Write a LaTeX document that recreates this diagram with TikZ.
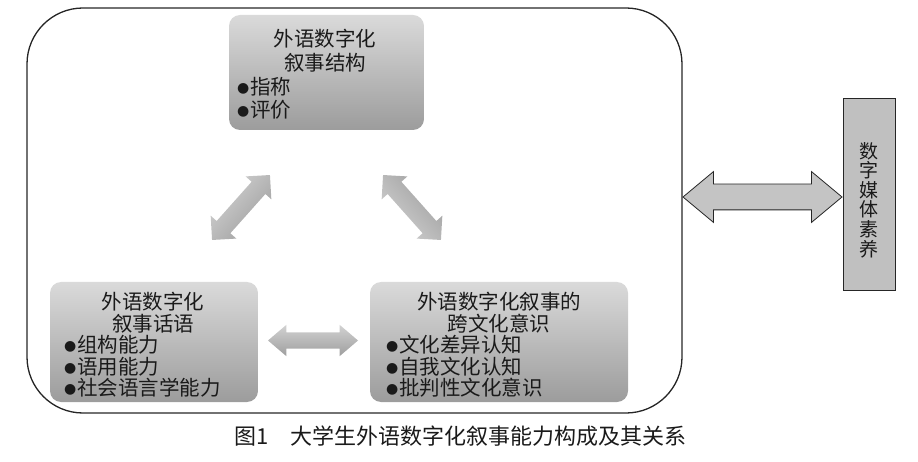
\documentclass[tikz,border=0pt]{standalone}
\usepackage{fontspec}
\newfontfamily\cjk{Noto Sans CJK SC}
\newfontfamily\dejavu{DejaVu Sans}
\usetikzlibrary{shapes.arrows}
\definecolor{boxtop}{HTML}{DADADA}
\definecolor{boxbot}{HTML}{9C9C9C}
\definecolor{arrlight}{HTML}{D2D2D2}
\definecolor{arrdark}{HTML}{9E9E9E}
\definecolor{bigarrow}{HTML}{C4C4C4}
\definecolor{mediabox}{HTML}{C0C0C0}
\definecolor{linecol}{HTML}{262626}
\definecolor{txtcol}{HTML}{1A1A1A}
\newcommand\mybul{\raisebox{2.5pt}{\dejavu\fontsize{14}{14}\selectfont ●}\hspace{1pt}}
\begin{document}
\begin{tikzpicture}[x=1pt,y=-1pt,
  gbox/.style={rounded corners=11pt, top color=boxtop, bottom color=boxbot, draw=none, inner sep=0pt},
  ttl/.style={font=\cjk\fontsize{20.5}{24}\selectfont, text=txtcol, inner sep=0pt, anchor=center},
  itm/.style={font=\cjk\fontsize{20.5}{24}\selectfont, text=txtcol, inner sep=0pt, anchor=west},
  garr/.style={double arrow, draw=none, inner sep=0pt}
]
\useasboundingbox (0,0) rectangle (918,462);
% outer frame
\node (frame) [draw=linecol, line width=1.3pt, rounded corners=56pt, minimum width=655pt, minimum height=405pt, inner sep=0pt] at (354.5,210.5) {};
% three boxes
\node (struct) [gbox, minimum width=195pt, minimum height=115pt] at (326.5,72.5) {};
\node (disc) [gbox, minimum width=208pt, minimum height=120pt] at (154,342) {};
\node (cult) [gbox, minimum width=258pt, minimum height=120pt] at (499,342) {};
% texts of top box
\node (s1) [ttl] at (325,39) {外语数字化};
\node (s2) [ttl] at (325,63) {叙事结构};
\node (s3) [itm] at (237,87) {\mybul 指称};
\node (s4) [itm] at (237,110) {\mybul 评价};
% texts of bottom-left box
\node (d1) [ttl] at (153,302) {外语数字化};
\node (d2) [ttl] at (153,324) {叙事话语};
\node (d3) [itm] at (64,345) {\mybul 组构能力};
\node (d4) [itm] at (64,367) {\mybul 语用能力};
\node (d5) [itm] at (64,388) {\mybul 社会语言学能力};
% texts of bottom-right box
\node (c1) [ttl] at (499,302) {外语数字化叙事的};
\node (c2) [ttl] at (499,324) {跨文化意识};
\node (c3) [itm] at (386,345) {\mybul 文化差异认知};
\node (c4) [itm] at (386,367) {\mybul 自我文化认知};
\node (c5) [itm] at (386,388) {\mybul 批判性文化意识};
% arrows between boxes
\node (a1) [garr, top color=arrlight, bottom color=arrdark, shading angle=48.3, minimum height=87pt, inner ysep=9pt, double arrow head extend=8pt, double arrow tip angle=90, rotate=48.3] at (241,207.5) {};
\node (a2) [garr, top color=arrlight, bottom color=arrdark, shading angle=131.7, minimum height=87pt, inner ysep=9pt, double arrow head extend=8pt, double arrow tip angle=90, rotate=-48.3] at (412,207.5) {};
\node (a3) [garr, top color=arrlight, bottom color=arrdark, minimum height=90pt, inner ysep=8pt, double arrow head extend=7.5pt, double arrow tip angle=81] at (313,340.5) {};
% media literacy box
\node (media) [draw=linecol, line width=0.9pt, fill=mediabox, minimum width=52pt, minimum height=192pt, inner sep=0pt] at (869,194) {};
\node (mediatxt) [font=\cjk\fontsize{19}{19.6}\selectfont, text=txtcol, align=center, inner sep=0pt] at (869,200) {数\\字\\媒\\体\\素\\养};
% big double arrow
\node (link) [double arrow, draw=linecol, line width=0.8pt, fill=bigarrow, minimum height=159pt, inner sep=0pt, inner ysep=12.5pt, double arrow head extend=12.5pt, double arrow tip angle=79.6] at (762.5,197) {};
% caption
\node (cap) [font=\cjk\fontsize{22}{24}\selectfont, text=txtcol, inner sep=0pt] at (460.5,436) {图1\hspace{1em}大学生外语数字化叙事能力构成及其关系};
\end{tikzpicture}
\end{document}
